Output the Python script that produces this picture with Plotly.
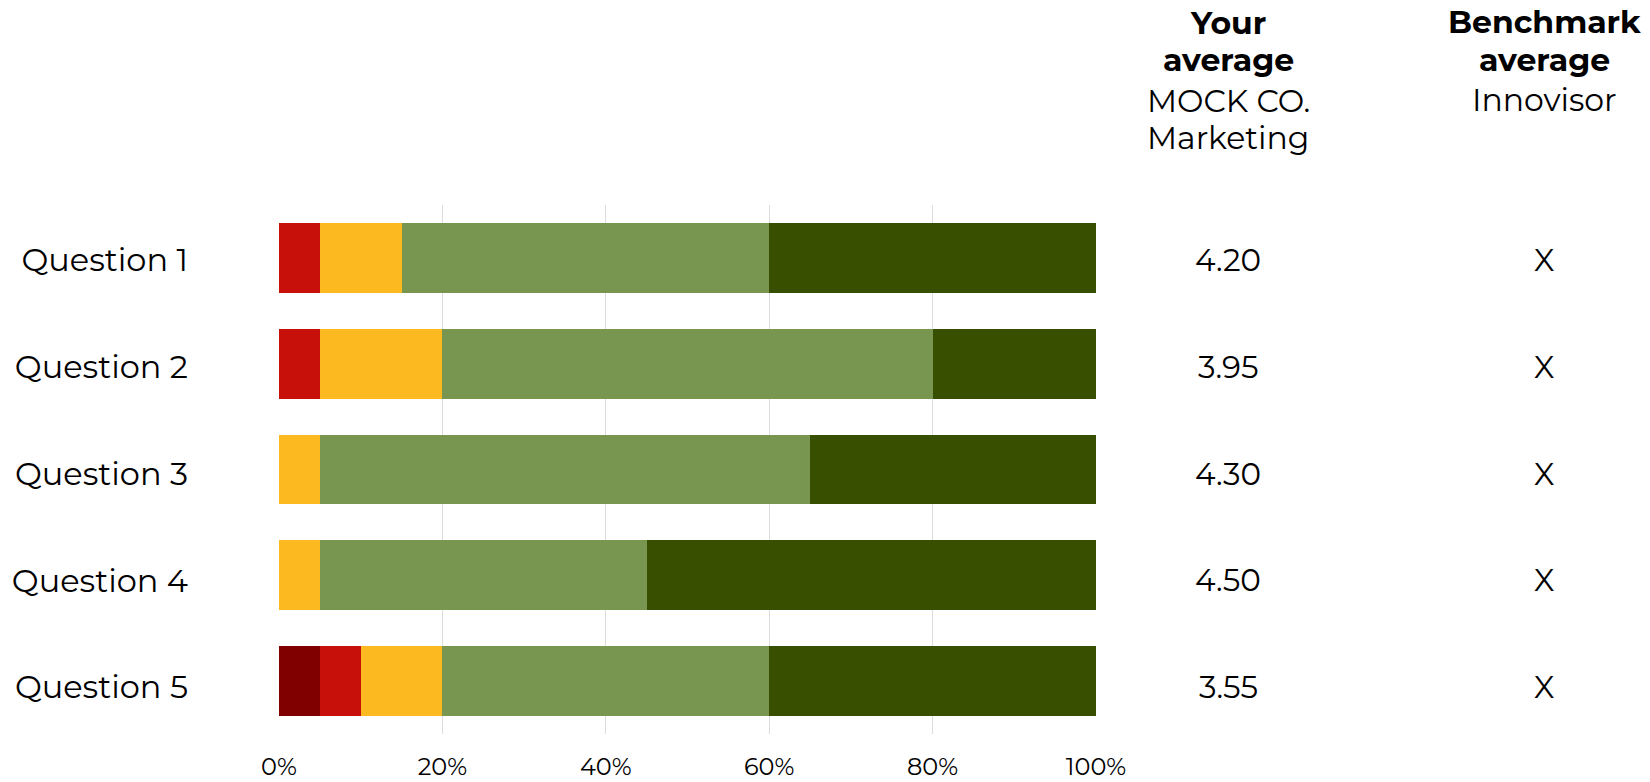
import plotly.graph_objects as go

questions = ["Question 1", "Question 2", "Question 3", "Question 4", "Question 5"]
# Share of responses per level (fraction), lowest to highest
strongly_disagree = [0.00, 0.00, 0.00, 0.00, 0.05]
disagree = [0.05, 0.05, 0.00, 0.00, 0.05]
neutral = [0.10, 0.15, 0.05, 0.05, 0.10]
agree = [0.45, 0.60, 0.60, 0.40, 0.40]
strongly_agree = [0.40, 0.20, 0.35, 0.55, 0.40]
your_average = ["4.20", "3.95", "4.30", "4.50", "3.55"]
benchmark_average = ["X", "X", "X", "X", "X"]
tick_vals = [0, 0.2, 0.4, 0.6, 0.8, 1.0]
tick_text = ["0%", "20%", "40%", "60%", "80%", "100%"]
header_your = [("<b>Your</b>", 23), ("<b>average</b>", 60), ("MOCK CO.", 101), ("Marketing", 138)]
header_bench = [("<b>Benchmark</b>", 22), ("<b>average</b>", 60), ("Innovisor", 100)]

series = [
    ("Strongly disagree", strongly_disagree, "#800000"),
    ("Disagree", disagree, "#C8100A"),
    ("Neutral", neutral, "#FDB920"),
    ("Agree", agree, "#78964F"),
    ("Strongly agree", strongly_agree, "#384F00"),
]

FONT = "Montserrat, 'Noto Sans', sans-serif"

fig = go.Figure()
for name, vals, col in series:
    fig.add_trace(go.Bar(
        y=questions, x=vals, name=name, orientation="h",
        marker=dict(color=col, line=dict(width=0)),
        showlegend=False,
    ))

# invisible trace that carries the text rows (labels + values), spaced like the reference table
fig.add_trace(go.Scatter(
    y=questions, x=[0] * len(questions), yaxis="y2", mode="markers",
    marker=dict(opacity=0), hoverinfo="skip", showlegend=False,
))

W, H = 1650, 782
L, R, T, B = 279, W - 1096, 205, 48
plot_w = W - L - R
plot_h = H - T - B

def px_to_paper_x(px):
    return (px - L) / plot_w

def px_to_paper_y(py):
    return (H - B - py) / plot_h

# text row layout (pixels): first row centre and row pitch
row0, pitch = 260, 106.8
y2_top = (T - row0) / pitch
y2_bot = (H - B - row0) / pitch

annotations = []
col1_x = px_to_paper_x(1228)
col2_x = px_to_paper_x(1544)
for q, v, b in zip(questions, your_average, benchmark_average):
    annotations.append(dict(x=col1_x, y=q, xref="paper", yref="y2", text=v,
                            showarrow=False, font=dict(size=31, color="#000000", family=FONT),
                            xanchor="center", yanchor="middle"))
    annotations.append(dict(x=col2_x, y=q, xref="paper", yref="y2", text=b,
                            showarrow=False, font=dict(size=31, color="#000000", family=FONT),
                            xanchor="center", yanchor="middle"))

for col_x, lines in ((col1_x, header_your), (col2_x, header_bench)):
    for txt, py in lines:
        annotations.append(dict(x=col_x, y=px_to_paper_y(py), xref="paper", yref="paper",
                                text=txt, showarrow=False, xanchor="center", yanchor="middle",
                                font=dict(size=31.5, color="#000000", family=FONT)))

fig.update_layout(
    barmode="stack",
    bargap=0.34,
    width=W, height=H,
    margin=dict(l=L, r=R, t=T, b=B, autoexpand=False),
    paper_bgcolor="white", plot_bgcolor="white",
    font=dict(family=FONT, color="#000000"),
    annotations=annotations,
    xaxis=dict(range=[0, 1], tickvals=tick_vals, ticktext=tick_text,
               showgrid=True, gridcolor="#DCDCDC", gridwidth=1,
               zeroline=False, showline=False, ticks="",
               tickfont=dict(size=24, family=FONT, color="#000000"),
               ticklabelstandoff=16, fixedrange=True),
    yaxis=dict(autorange="reversed", showgrid=False, zeroline=False, showline=False,
               ticks="", showticklabels=False, fixedrange=True),
    yaxis2=dict(overlaying="y", side="left", type="category",
                categoryorder="array", categoryarray=questions,
                range=[y2_bot, y2_top], showgrid=False, zeroline=False, showline=False,
                ticks="", tickfont=dict(size=32, family=FONT, color="#000000"),
                ticklabelstandoff=90, fixedrange=True),
)

fig.write_html("out.html")
